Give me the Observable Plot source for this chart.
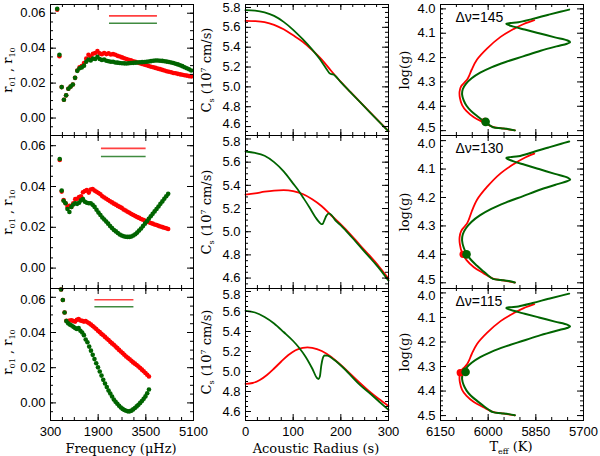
<!DOCTYPE html>
<html>
<head>
<meta charset="utf-8">
<script src="https://cdn.jsdelivr.net/npm/d3@7"></script>
<script src="https://cdn.jsdelivr.net/npm/@observablehq/plot@0.6"></script>
<style>
  body { margin: 0; background: #fff; }
  #chart { position: relative; width: 600px; height: 456px; overflow: hidden; }
  #chart svg { position: absolute; left: 0; top: 0; }
  .lab { position: absolute; font-family: "DejaVu Serif", serif; font-size: 13px; line-height: 1; color: #000; white-space: nowrap; }
  .lab sub { font-size: 0.62em; vertical-align: -0.35em; }
  .lab sup { font-size: 0.62em; vertical-align: 0.6em; }
</style>
</head>
<body>
<div id="chart"></div>
<script>
// ---- left column: r01, r10 ratios vs frequency (muHz)
const freq1 = [525,600,675,750,825,900,975,1050,1125,1200,1275,1350,1425,1500,1575,1650,1725,1800,1875,1950,2025,2100,2175,2250,2325,2400,2475,2550,2625,2700,2775,2850,2925,3000,3075,3150,3225,3300,3375,3450,3525,3600,3675,3750,3825,3900,3975,4050,4125,4200,4275,4350,4425,4500,4575,4650,4725,4800,4875,4950,5025];
const red1 = [0.0620,0.0354,0.0177,0.0105,0.0130,0.0168,0.0180,0.0192,0.0230,0.0272,0.0290,0.0298,0.0315,0.0340,0.0362,0.0352,0.0368,0.0372,0.0383,0.0370,0.0365,0.0372,0.0366,0.0370,0.0364,0.0366,0.0362,0.0356,0.0352,0.0347,0.0342,0.0338,0.0333,0.0330,0.0325,0.0322,0.0318,0.0314,0.0310,0.0306,0.0302,0.0298,0.0294,0.0291,0.0287,0.0283,0.0280,0.0276,0.0272,0.0268,0.0265,0.0262,0.0258,0.0256,0.0253,0.0250,0.0248,0.0245,0.0243,0.0240,0.0238];
const green1 = [0.0625,0.0362,0.0177,0.0105,0.0130,0.0168,0.0180,0.0192,0.0230,0.0270,0.0285,0.0290,0.0300,0.0322,0.0335,0.0330,0.0340,0.0338,0.0350,0.0338,0.0332,0.0335,0.0328,0.0325,0.0322,0.0322,0.0318,0.0317,0.0315,0.0314,0.0313,0.0312,0.0314,0.0315,0.0316,0.0317,0.0318,0.0319,0.0320,0.0321,0.0322,0.0324,0.0326,0.0328,0.0329,0.0329,0.0328,0.0327,0.0325,0.0323,0.0321,0.0318,0.0315,0.0311,0.0307,0.0302,0.0297,0.0291,0.0285,0.0279,0.0272];

const freq2 = [610,675,740,805,870,935,1000,1065,1130,1195,1260,1325,1390,1455,1520,1585,1650,1715,1780,1845,1910,1975,2040,2105,2170,2235,2300,2365,2430,2495,2560,2625,2690,2755,2820,2885,2950,3015,3080,3145,3210,3275,3340,3405,3470,3535,3600,3665,3730,3795,3860,3925,3990,4055,4120,4185,4250];
const red2 = [0.0530,0.0375,0.0333,0.0318,0.0300,0.0305,0.0300,0.0318,0.0338,0.0340,0.0348,0.0352,0.0372,0.0378,0.0382,0.0370,0.0385,0.0388,0.0380,0.0374,0.0368,0.0362,0.0352,0.0346,0.0340,0.0334,0.0328,0.0322,0.0316,0.0311,0.0305,0.0300,0.0295,0.0287,0.0282,0.0276,0.0271,0.0265,0.0260,0.0255,0.0250,0.0246,0.0241,0.0237,0.0233,0.0229,0.0225,0.0221,0.0218,0.0214,0.0211,0.0207,0.0204,0.0201,0.0198,0.0195,0.0192];
const green2 = [0.0535,0.0380,0.0330,0.0318,0.0290,0.0275,0.0300,0.0312,0.0318,0.0315,0.0320,0.0332,0.0338,0.0325,0.0320,0.0318,0.0318,0.0310,0.0300,0.0286,0.0272,0.0260,0.0248,0.0238,0.0228,0.0218,0.0206,0.0196,0.0187,0.0180,0.0172,0.0165,0.0160,0.0156,0.0154,0.0153,0.0153,0.0155,0.0160,0.0166,0.0174,0.0184,0.0194,0.0206,0.0218,0.0230,0.0242,0.0254,0.0266,0.0278,0.0290,0.0302,0.0315,0.0327,0.0340,0.0352,0.0364];

const freq3 = [655,714,773,832,891,950,1009,1068,1127,1186,1245,1304,1363,1422,1481,1540,1599,1658,1717,1776,1835,1894,1953,2012,2071,2130,2189,2248,2307,2366,2425,2484,2543,2602,2661,2720,2779,2838,2897,2956,3015,3074,3133,3192,3251,3310,3369,3428,3487,3546,3605];
const red3 = [0.0644,0.0585,0.0514,0.0467,0.0465,0.0468,0.0470,0.0465,0.0462,0.0472,0.0476,0.0468,0.0466,0.0462,0.0465,0.0458,0.0452,0.0445,0.0437,0.0428,0.0420,0.0410,0.0402,0.0392,0.0384,0.0375,0.0366,0.0357,0.0347,0.0338,0.0330,0.0320,0.0311,0.0301,0.0292,0.0283,0.0274,0.0264,0.0256,0.0248,0.0239,0.0230,0.0223,0.0215,0.0207,0.0198,0.0189,0.0180,0.0170,0.0160,0.0150];
const green3 = [0.0644,0.0585,0.0514,0.0465,0.0452,0.0445,0.0440,0.0432,0.0425,0.0420,0.0425,0.0410,0.0400,0.0385,0.0360,0.0345,0.0320,0.0297,0.0273,0.0249,0.0225,0.0202,0.0178,0.0155,0.0131,0.0110,0.0090,0.0070,0.0053,0.0036,0.0019,0.0006,-0.0005,-0.0016,-0.0026,-0.0034,-0.0040,-0.0045,-0.0048,-0.0048,-0.0044,-0.0037,-0.0029,-0.0020,-0.0011,0.0000,0.0011,0.0023,0.0037,0.0055,0.0076];

// legend strokes (no labels) in the left panels
const legendFreq = [[2280, 3890], [2010, 3510], [1790, 3100]];
const legendRedR = [0.0585, 0.0587, 0.0586];
const legendGreenR = [0.0543, 0.0547, 0.0546];

// ---- middle column: sound speed (1e7 cm/s) vs acoustic radius (s)
const radRed1 = [0,20,40,60,80,100,120,140,160,180,200,220,240,260,280,300];
const csRed1 = [5.665,5.662,5.652,5.625,5.580,5.520,5.455,5.370,5.275,5.160,5.050,4.949,4.850,4.751,4.652,4.553];
const radGreen1 = [0,20,40,60,80,100,120,140,155,165,172,176,180,184,188,200,220,240,260,280,300];
const csGreen1 = [5.773,5.768,5.750,5.715,5.655,5.575,5.480,5.375,5.285,5.215,5.165,5.138,5.128,5.126,5.112,5.047,4.947,4.848,4.749,4.650,4.551];

const radRed2 = [0,20,40,60,80,100,120,140,160,180,200,220,240,260,280,300];
const csRed2 = [5.320,5.330,5.345,5.355,5.358,5.350,5.325,5.280,5.220,5.140,5.063,4.978,4.885,4.795,4.700,4.596];
const radGreen2 = [0,20,40,60,80,100,110,120,133,147,155,159,162,166,170,175,180,189,200,210,230,245,260,273,285,300];
const csGreen2 = [5.692,5.680,5.655,5.600,5.520,5.415,5.362,5.300,5.218,5.123,5.080,5.065,5.068,5.105,5.140,5.158,5.145,5.095,5.055,5.012,4.920,4.850,4.780,4.720,4.660,4.578];

const radRed3 = [0,15,30,45,60,75,90,105,120,130,140,160,180,200,220,240,260,280,300];
const csRed3 = [4.877,4.885,4.915,4.965,5.030,5.100,5.165,5.213,5.237,5.242,5.237,5.205,5.145,5.065,4.975,4.885,4.800,4.725,4.655];
const radGreen3 = [0,20,40,60,80,100,112,126,140,150,153,156,159,162,166,172,185,196,210,224,240,259,280,300];
const csGreen3 = [5.607,5.590,5.545,5.480,5.395,5.305,5.240,5.148,5.030,4.935,4.925,4.950,5.060,5.130,5.160,5.158,5.120,5.078,5.015,4.944,4.866,4.790,4.700,4.616];

// ---- right column: evolutionary tracks, log g vs Teff
const greenTeff = [5916,5935,5960,5985,6000,6015,6035,6055,6068,6077,6082,6080,6070,6052,6025,5990,5945,5890,5835,5785,5752,5742,5750,5790,5840,5885,5920,5940,5943,5930,5905,5860,5810,5770,5745];
const greenLogg = [4.499,4.494,4.490,4.486,4.474,4.460,4.440,4.418,4.398,4.376,4.352,4.330,4.308,4.285,4.262,4.240,4.218,4.195,4.172,4.154,4.143,4.137,4.130,4.117,4.100,4.085,4.073,4.064,4.061,4.058,4.055,4.041,4.024,4.011,4.003];
const redTeff = [5916,5950,5985,6015,6045,6068,6082,6089,6090,6085,6074,6066,6060,6052,6035,6003,5961,5919,5888,5855];
const redLogg = [4.499,4.492,4.485,4.466,4.445,4.420,4.395,4.365,4.340,4.318,4.302,4.290,4.275,4.250,4.208,4.162,4.115,4.082,4.062,4.046];
const dotRedTeff = [6010, 6079, 6088];
const dotRedLogg = [4.462, 4.400, 4.325];
const dotGreenTeff = [6008, 6068, 6071];
const dotGreenLogg = [4.464, 4.400, 4.322];
const dnu = [145, 130, 115];

// tick labels
const freqTicks = [300, 1900, 3500, 5100];
const ratioTicks = [0.00, 0.02, 0.04, 0.06];
const radTicks = [0, 100, 200, 300];
const csTicks = [4.6, 4.8, 5.0, 5.2, 5.4, 5.6, 5.8];
const teffTicks = [6150, 6000, 5850, 5700];
const loggTicks = [4.0, 4.1, 4.2, 4.3, 4.4, 4.5];

const RED = "#ff0000", GREEN = "#006400";
const W = 600, H = 456;
const colX = [[50, 193], [245, 388], [440, 583]];
const rowY = [[4, 135], [135, 288], [288, 420]];

const zip = (xs, ys) => xs.map((x, i) => ({x, y: ys[i]}));

function panel(col, row, o) {
  const [x0, x1] = colX[col], [y0, y1] = rowY[row];
  const ih = y1 - y0, iw = x1 - x0;
  const tx = (v, n) => [
    Plot.tickX(v, {x: d => d, insetTop: ih - n, stroke: "#000"}),
    Plot.tickX(v, {x: d => d, insetBottom: ih - n, stroke: "#000"})
  ];
  const ty = (v, n) => [
    Plot.tickY(v, {y: d => d, insetRight: iw - n, stroke: "#000"}),
    Plot.tickY(v, {y: d => d, insetLeft: iw - n, stroke: "#000"})
  ];
  // y labels sitting on a boundary shared with the next panel are nudged apart
  const [d0, d1] = o.yDomain;
  const fromTop = v => (o.yReverse ? (v - d0) : (d1 - v)) / (d1 - d0) * ih;
  const shift = v => {
    const p = fromTop(v);
    if (row > 0 && p < 10) return 3;
    if (row < 2 && ih - p < 10) return -3;
    return 0;
  };
  const yAxes = [-3, 0, 3].map(s => Plot.axisY(o.yTicks.filter(v => shift(v) === s),
    {anchor: "left", tickSize: 0, tickPadding: 5, tickFormat: o.yFmt, label: null, dy: s}));
  return Plot.plot({
    width: W, height: H,
    marginLeft: x0, marginRight: W - x1, marginTop: y0, marginBottom: H - y1,
    style: {background: "transparent", overflow: "visible", fontFamily: "'Liberation Sans', Arial, sans-serif", fontSize: "13px", color: "#000"},
    x: {domain: o.xDomain, axis: null},
    y: {domain: o.yDomain, reverse: !!o.yReverse, axis: null},
    marks: [
      ...o.marks,
      ...tx(o.xMinor, 3), ...tx(o.xTicks, 6),
      ...ty(o.yMinor, 3), ...ty(o.yTicks, 6),
      ...yAxes,
      ...(row === 2 ? [Plot.axisX(o.xTicks, {anchor: "bottom", tickSize: 0, tickPadding: 6, tickFormat: o.xFmt, label: null})] : []),
      Plot.frame({stroke: "#000"})
    ]
  });
}

const chart = document.getElementById("chart");
const ratio = [[freq1, red1, green1], [freq2, red2, green2], [freq3, red3, green3]];
const speed = [[radRed1, csRed1, radGreen1, csGreen1], [radRed2, csRed2, radGreen2, csGreen2], [radRed3, csRed3, radGreen3, csGreen3]];

for (let r = 0; r < 3; r++) {
  const [f, rv, gv] = ratio[r];
  chart.append(panel(0, r, {
    xDomain: [300, 5100], yDomain: [-0.01, 0.065],
    xTicks: freqTicks, xMinor: d3.range(300, 5101, 400), xFmt: d3.format("d"),
    yTicks: ratioTicks, yMinor: d3.range(-0.01, 0.0651, 0.005), yFmt: d3.format(".2f"),
    marks: [
      Plot.ruleY([{y: legendRedR[r], a: legendFreq[r][0], b: legendFreq[r][1]}], {y: "y", x1: "a", x2: "b", stroke: RED, strokeWidth: 1.6, strokeOpacity: 0.75}),
      Plot.ruleY([{y: legendGreenR[r], a: legendFreq[r][0], b: legendFreq[r][1]}], {y: "y", x1: "a", x2: "b", stroke: GREEN, strokeWidth: 1.6, strokeOpacity: 0.75}),
      Plot.dot(zip(f, rv), {x: "x", y: "y", r: 2.3, fill: RED}),
      Plot.dot(zip(f, gv), {x: "x", y: "y", r: 2.3, fill: GREEN})
    ]
  }));

  const [rr, cr, rg, cg] = speed[r];
  chart.append(panel(1, r, {
    xDomain: [0, 300], yDomain: [4.51, 5.83],
    xTicks: radTicks, xMinor: d3.range(0, 301, 25), xFmt: d3.format("d"),
    yTicks: csTicks, yMinor: d3.range(4.55, 5.83, 0.05), yFmt: d3.format(".1f"),
    marks: [
      Plot.line(zip(rr, cr), {x: "x", y: "y", stroke: RED, strokeWidth: 1.8, curve: "monotone-x"}),
      Plot.line(zip(rg, cg), {x: "x", y: "y", stroke: GREEN, strokeWidth: 1.8, curve: "monotone-x"})
    ]
  }));

  chart.append(panel(2, r, {
    xDomain: [6150, 5700], yDomain: [3.982, 4.52], yReverse: true,
    xTicks: teffTicks, xMinor: d3.range(5700, 6151, 50), xFmt: d3.format("d"),
    yTicks: loggTicks, yMinor: d3.range(4.0, 4.52, 0.02), yFmt: d3.format(".1f"),
    marks: [
      Plot.line(zip(redTeff, redLogg), {x: "x", y: "y", stroke: RED, strokeWidth: 1.8, curve: "catmull-rom"}),
      Plot.line(zip(greenTeff, greenLogg), {x: "x", y: "y", stroke: GREEN, strokeWidth: 2, curve: "catmull-rom"}),
      Plot.dot([{x: dotRedTeff[r], y: dotRedLogg[r]}], {x: "x", y: "y", r: 3.6, fill: RED}),
      Plot.dot([{x: dotGreenTeff[r], y: dotGreenLogg[r]}], {x: "x", y: "y", r: 4.3, fill: GREEN}),
      Plot.text([`\u0394\u03bd=${dnu[r]}`], {text: d => d, frameAnchor: "top-left", dx: 15, dy: 13, textAnchor: "start", lineAnchor: "middle", fontSize: 14})
    ]
  }));
}

function label(html, x, y, rotate) {
  const d = document.createElement("div");
  d.className = "lab";
  d.innerHTML = html;
  d.style.left = x + "px";
  d.style.top = y + "px";
  d.style.transform = "translate(-50%,-50%)" + (rotate ? " rotate(-90deg)" : "");
  chart.append(d);
}
const rowMid = [70, 212, 352];
for (let r = 0; r < 3; r++) {
  label("r<sub>01</sub> , r<sub>10</sub>", 9, rowMid[r], true);
  label("C<sub>s</sub> (10<sup>7</sup> cm/s)", 208, rowMid[r], true);
  label("log(g)", 404, rowMid[r], true);
}
label("Frequency (\u03bcHz)", 121, 448);
label("Acoustic Radius (s)", 316, 448);
label("T<sub>eff</sub> (K)", 511, 448);
</script>
</body>
</html>
